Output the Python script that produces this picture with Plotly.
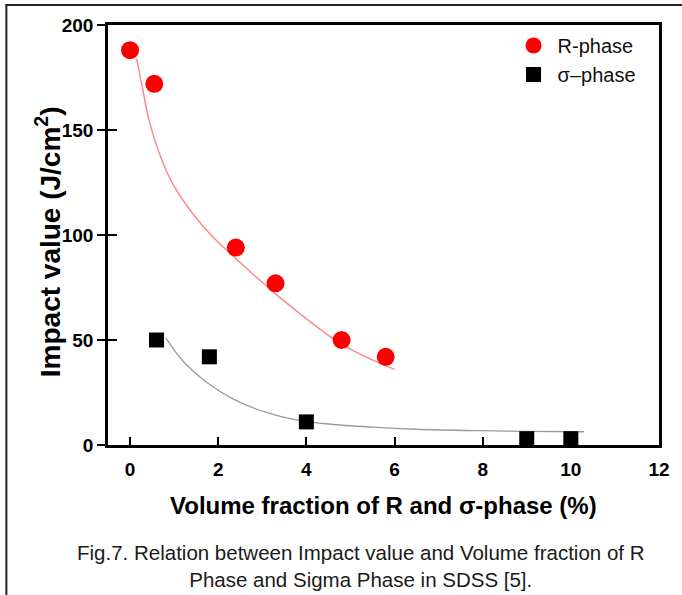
import plotly.graph_objects as go

# ---- data ----
r_x = [0.0, 0.55, 2.4, 3.3, 4.8, 5.8]
r_y = [188, 172, 94, 77, 50, 42]
s_x = [0.6, 1.8, 4.0, 9.0, 10.0]
s_y = [50, 42, 11, 3, 3]

# fitted trend lines
r_fit_x = [0.15, 0.3, 0.44, 0.68, 0.98, 1.43, 1.88, 2.39, 3.3, 4.8, 6.0]
r_fit_y = [184, 168, 154, 138, 124, 110, 99, 89, 72, 48, 36]
s_fit_x = [0.81, 1.2, 1.73, 2.33, 3.09, 3.77, 4.5, 5.5, 6.5, 8.0, 9.0, 10.3]
s_fit_y = [51, 40, 30, 22, 15.5, 12, 10, 8.5, 7.5, 6.8, 6.5, 6.3]

x_ticks = [0, 2, 4, 6, 8, 10, 12]
y_ticks = [0, 50, 100, 150, 200]

W, H = 682, 595
L, R, T, B = 108, 661, 25, 445   # plot area pixel bounds
PW, PH = R - L, B - T

def px(x):
    return (x - L) / PW

def py(y):
    return (B - y) / PH

FONT = "Liberation Sans"

fig = go.Figure()

fig.add_trace(go.Scatter(x=r_fit_x, y=r_fit_y, mode="lines", line_shape="spline",
                         line=dict(color="#ff8a8a", width=1.5), showlegend=False,
                         hoverinfo="skip"))
fig.add_trace(go.Scatter(x=s_fit_x, y=s_fit_y, mode="lines", line_shape="spline",
                         line=dict(color="#9a9a9a", width=1.3), showlegend=False,
                         hoverinfo="skip"))
fig.add_trace(go.Scatter(x=r_x, y=r_y, mode="markers", name="R-phase",
                         marker=dict(symbol="circle", size=18, color="#ff0000")))
fig.add_trace(go.Scatter(x=s_x, y=s_y, mode="markers", name="σ–phase",
                         marker=dict(symbol="square", size=15, color="#000000")))
# empty trace on overlay axis (inner y ticks)
fig.add_trace(go.Scatter(x=[None], y=[None], yaxis="y2", showlegend=False,
                         hoverinfo="skip"))

axis_common = dict(showgrid=False, zeroline=False, linecolor="#000000", linewidth=2.5,
                   tickcolor="#000000", tickwidth=2,
                   tickfont=dict(family=FONT, size=19, color="#000000", weight=700))

fig.update_layout(
    width=W, height=H,
    margin=dict(l=L, r=W - R, t=T, b=H - B),
    paper_bgcolor="white", plot_bgcolor="white",
    xaxis=dict(range=[-0.5, 12], tickvals=x_ticks,
               ticktext=[f"<b>{v}</b>" for v in x_ticks],
               ticks="inside", ticklen=8,
               mirror=True, showline=True, ticklabelstandoff=5, **axis_common),
    yaxis=dict(range=[0, 200], tickvals=y_ticks,
               ticktext=[f"<b>{v}</b>" for v in y_ticks],
               ticks="outside", ticklen=8, ticklabelstandoff=0,
               mirror=True, showline=True, **axis_common),
    yaxis2=dict(range=[0, 200], tickvals=y_ticks, ticks="inside", ticklen=9,
                overlaying="y", side="left", showline=False, showticklabels=False,
                showgrid=False, zeroline=False, tickcolor="#000000", tickwidth=2),
    legend=dict(x=px(511), y=py(26), xanchor="left", yanchor="top",
                bgcolor="rgba(0,0,0,0)",
                font=dict(family=FONT, size=20, color="#111111"),
                tracegroupgap=0, itemwidth=38),
    showlegend=True,
)

fig.add_annotation(text="<b>Impact value (J/cm<sup>2</sup>)</b>", textangle=-90,
                   x=px(48), y=py(242), xref="paper", yref="paper",
                   xanchor="center", yanchor="middle",
                   showarrow=False, font=dict(family=FONT, size=28, color="#000000"))
fig.add_annotation(text="<b>Volume fraction of R and σ-phase (%)</b>",
                   x=px(385), y=py(506), xref="paper", yref="paper",
                   xanchor="center", yanchor="middle",
                   showarrow=False, font=dict(family=FONT, size=24, color="#000000"))
fig.add_annotation(text="Fig.7. Relation between Impact value and Volume fraction of R<br>"
                        "Phase and Sigma Phase in SDSS [5].",
                   x=px(361), y=py(566), xref="paper", yref="paper",
                   xanchor="center", yanchor="middle",
                   showarrow=False, align="center",
                   font=dict(family=FONT, size=20.5, color="#1a1a1a"))

# outer frame (left and top edges visible)
fig.add_shape(type="line", xref="paper", yref="paper",
              x0=px(6), x1=px(6), y0=py(5), y1=py(600),
              line=dict(color="#222222", width=2))
fig.add_shape(type="line", xref="paper", yref="paper",
              x0=px(5), x1=px(690), y0=py(5), y1=py(5),
              line=dict(color="#222222", width=2))

fig.write_html("out.html", config={"displayModeBar": False},
               post_script="document.body.style.margin='0';document.body.style.padding='0';"
                           "document.body.style.overflow='hidden';")
